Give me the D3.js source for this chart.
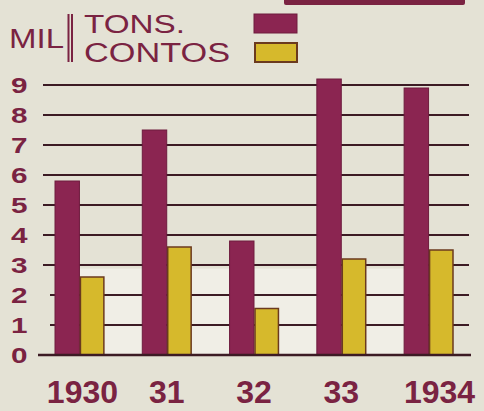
<!DOCTYPE html>
<html>
<head>
<meta charset="utf-8">
<script src="https://cdn.jsdelivr.net/npm/d3@7"></script>
<style>
  html, body { margin: 0; padding: 0; background: #e4e2d5; }
  svg { display: block; }
  text { font-family: "Liberation Sans", Arial, sans-serif; fill: #7a2342; }
</style>
</head>
<body>
<svg id="chart" width="484" height="411"></svg>
<script>
// Production per year: thousand tons and thousand contos
const years = ["1930", "31", "32", "33", "1934"];
const tons = [5.8, 7.5, 3.8, 9.2, 8.9];
const contos = [2.6, 3.6, 1.55, 3.2, 3.5];
const yTicks = [0, 1, 2, 3, 4, 5, 6, 7, 8, 9];
const seriesNames = ["TONS.", "CONTOS"];
const unitLabel = "MIL";

const colors = { tons: "#8b2551", contos: "#d6b92c", ink: "#7a2342", rule: "#3c1b24" };

const svg = d3.select("#chart");
const W = 484, H = 411;

const x = d3.scaleBand().domain(years).range([55, 453]).paddingInner(0.44).paddingOuter(0);
const sub = d3.scaleBand().domain(["tons", "contos"]).range([0, x.bandwidth()]).padding(0);
const y = d3.scaleLinear().domain([0, 9]).range([355, 85]);

// paper background
svg.append("rect").attr("width", W).attr("height", H).attr("fill", "#e4e2d5");

// lighter strip behind the lower part of the plot
svg.append("rect")
  .attr("x", x.range()[0]).attr("width", x.range()[1] - x.range()[0])
  .attr("y", y(2.88)).attr("height", y(0) - y(2.88))
  .attr("fill", "#f0eee6");

// remnant of the title box rule at the top edge
svg.append("rect").attr("x", 284).attr("y", -2).attr("width", 181).attr("height", 7)
  .attr("rx", 2).attr("fill", colors.ink);

// horizontal rules
const grid = svg.append("g");
grid.selectAll("line").data(yTicks.filter(d => d > 0)).join("line")
  .attr("x1", d => d <= 2 ? 50 : 43)
  .attr("x2", 469)
  .attr("y1", d => y(d)).attr("y2", d => y(d))
  .attr("stroke", colors.rule).attr("stroke-width", 1.8);

// y tick labels
const yAxis = svg.append("g");
yAxis.selectAll("text").data(yTicks).join("text")
  .attr("transform", d => `translate(11,${y(d)}) scale(1.35,1)`)
  .attr("dy", "0.36em")
  .style("font-size", "22px").style("font-weight", "bold")
  .text(d => d);

// bars
const groups = svg.append("g").selectAll("g").data(years).join("g")
  .attr("transform", d => `translate(${x(d)},0)`);

groups.append("rect")
  .attr("x", sub("tons")).attr("width", sub.bandwidth())
  .attr("y", (d, i) => y(tons[i])).attr("height", (d, i) => y(0) - y(tons[i]))
  .attr("fill", colors.tons).attr("stroke", "#6e1c3e").attr("stroke-width", 1);

groups.append("rect")
  .attr("x", sub("contos") + 1).attr("width", sub.bandwidth() - 1)
  .attr("y", (d, i) => y(contos[i])).attr("height", (d, i) => y(0) - y(contos[i]))
  .attr("fill", colors.contos).attr("stroke", "#6b3a1e").attr("stroke-width", 1.5);

// baseline
svg.append("line").attr("x1", 38).attr("x2", 471).attr("y1", y(0)).attr("y2", y(0))
  .attr("stroke", colors.rule).attr("stroke-width", 2.5);

// x labels (the full years at both ends sit slightly outward)
svg.append("g").selectAll("text").data(years).join("text")
  .attr("x", d => x(d) + x.bandwidth() / 2)
  .attr("dx", (d, i) => i === years.length - 1 ? 11 : (i === 0 ? 3 : 0))
  .attr("y", 403)
  .attr("text-anchor", "middle")
  .style("font-size", "32px").style("font-weight", "bold")
  .text(d => d);

// legend
const lg = svg.append("g");
lg.append("text").attr("x", 9).attr("y", 48)
  .style("font-size", "28px").style("font-weight", "normal")
  .attr("textLength", 55).attr("lengthAdjust", "spacingAndGlyphs").text(unitLabel);
lg.append("line").attr("x1", 68.5).attr("x2", 68.5).attr("y1", 14).attr("y2", 62)
  .attr("stroke", colors.ink).attr("stroke-width", 2);
lg.append("line").attr("x1", 72).attr("x2", 72).attr("y1", 14).attr("y2", 62)
  .attr("stroke", colors.ink).attr("stroke-width", 2);
lg.append("text").attr("x", 84).attr("y", 33)
  .style("font-size", "25px").style("font-weight", "normal")
  .attr("textLength", 101).attr("lengthAdjust", "spacingAndGlyphs").text(seriesNames[0]);
lg.append("text").attr("x", 84).attr("y", 62)
  .style("font-size", "27px").style("font-weight", "normal")
  .attr("textLength", 146).attr("lengthAdjust", "spacingAndGlyphs").text(seriesNames[1]);
lg.append("rect").attr("x", 254).attr("y", 14).attr("width", 43).attr("height", 19)
  .attr("fill", colors.tons).attr("stroke", "#6e1c3e").attr("stroke-width", 1);
lg.append("rect").attr("x", 255).attr("y", 43).attr("width", 42).attr("height", 19)
  .attr("fill", colors.contos).attr("stroke", "#6b3a1e").attr("stroke-width", 2);
</script>
</body>
</html>
